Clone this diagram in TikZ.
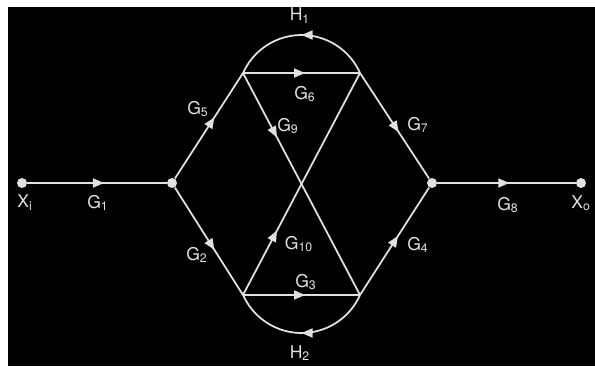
\documentclass[tikz,border=0pt]{standalone}
\usepackage{fontspec}
\setmainfont{TeX Gyre Heros}
\usepackage{tikz}
\usetikzlibrary{arrows.meta, decorations.markings}
\definecolor{wire}{RGB}{225, 225, 225}

\begin{document}
\begin{tikzpicture}[font=\fontsize{10}{12}\selectfont, >=Stealth,
    dot/.style={circle, fill=wire, inner sep=0pt, minimum size=2mm},
    lbl/.style={text=wire, inner sep=1pt},
    branch/.style={draw=wire, line width=1pt},
    flow/.style={postaction={decorate, decoration={markings,
                 mark=at position #1 with {\arrow[wire]{Triangle[length=2.2mm, width=1.8mm]}}}}}]
  % background
  \useasboundingbox (0,0) rectangle (11.9,7.32);
  \fill[white] (0,0) rectangle (11.9,7.32);
  \fill[black] (0.16,0) rectangle (11.9,7.18);

  % nodes
  \node[dot] (xi) at (0.44,3.66) {};
  \node[dot] (nl) at (3.44,3.66) {};
  \node[dot] (nr) at (8.64,3.66) {};
  \node[dot] (xo) at (11.62,3.66) {};
  \coordinate (tl) at (4.86,5.86);
  \coordinate (tr) at (7.20,5.86);
  \coordinate (bl) at (4.86,1.42);
  \coordinate (br) at (7.20,1.42);

  % branches
  \draw[branch, flow=0.55] (xi) -- (nl);
  \draw[branch, flow=0.58] (nl) -- (tl);
  \draw[branch, flow=0.58] (nl) -- (bl);
  \draw[branch, flow=0.53] (tl) -- (tr);
  \draw[branch, flow=0.56] (tr) -- (nr);
  \draw[branch, flow=0.53] (bl) -- (br);
  \draw[branch, flow=0.55] (br) -- (nr);
  \draw[branch, flow=0.52] (nr) -- (xo);
  \draw[branch, flow=0.29] (tl) -- (br);
  \draw[branch, flow=0.29] (bl) -- (tr);
  \draw[branch, flow=0.5] (tr) arc[start angle=24, end angle=156, radius=1.28];
  \draw[branch, flow=0.5] (br) arc[start angle=-24, end angle=-156, radius=1.28];

  % labels
  \node[lbl] at (0.50,3.27) {X\textsubscript{i}};
  \node[lbl] at (1.96,3.26) {G\textsubscript{1}};
  \node[lbl] at (3.96,5.14) {G\textsubscript{5}};
  \node[lbl] at (3.94,2.22) {G\textsubscript{2}};
  \node[lbl] at (6.10,5.44) {G\textsubscript{6}};
  \node[lbl] at (6.00,7.01) {H\textsubscript{1}};
  \node[lbl] at (5.76,4.80) {G\textsubscript{9}};
  \node[lbl] at (8.36,4.82) {G\textsubscript{7}};
  \node[lbl] at (5.98,2.44) {G\textsubscript{10}};
  \node[lbl] at (6.12,1.68) {G\textsubscript{3}};
  \node[lbl] at (6.00,0.26) {H\textsubscript{2}};
  \node[lbl] at (8.36,2.42) {G\textsubscript{4}};
  \node[lbl] at (10.16,3.22) {G\textsubscript{8}};
  \node[lbl] at (11.62,3.26) {X\textsubscript{o}};
\end{tikzpicture}
\end{document}
